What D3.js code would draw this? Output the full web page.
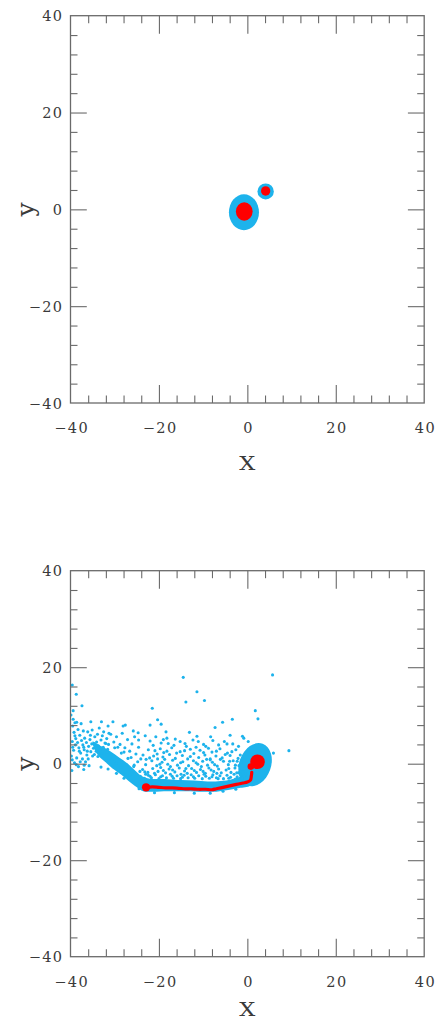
<!DOCTYPE html>
<html>
<head>
<meta charset="utf-8">
<script src="https://cdn.jsdelivr.net/npm/d3@7"></script>
<style>
  html, body { margin: 0; padding: 0; background: #fff; }
  svg { display: block; }
</style>
</head>
<body>
<svg id="chart" width="435" height="1022"></svg>
<script>
// ---- axes ----
const axisDomain = [-40, 40];
const majorTicks = [-40, -20, 0, 20, 40];
const tickLabels = ["\u221240", "\u221220", "0", "20", "40"];
const minorTicks = [-36, -32, -28, -24, -16, -12, -8, -4, 4, 8, 12, 16, 24, 28, 32, 36];

// ---- upper panel: the two discs before the encounter ([x, y, rx, ry]) ----
const topHalos = [[-0.77, -0.6, 3.4, 3.7], [4.14, 3.7, 1.85, 1.65]];
const topCores = [[-0.7, -0.45, 1.9, 1.9], [4.14, 3.8, 1.05, 0.98]];

// ---- lower panel: tidal tail and remnant ----
// dense part of the tail, outline [x, y]
const tailEnvelope = [
  [-35, 4.6], [-33, 3.6], [-31, 2.6], [-29, 1.3], [-27, 0.0], [-25.5, -1.3], [-24, -2.5], [-22, -3.1],
  [-18, -3.2], [-15, -3.4], [-12, -3.5], [-9, -3.7], [-6, -3.6], [-3.5, -3.2], [-1.5, -2.6], [-0.2, -1.6],
  [0.8, -4.4], [-1.5, -5.0], [-4, -5.4], [-7, -5.8], [-10, -5.8], [-14, -5.7], [-18, -5.7],
  [-21.5, -5.8], [-23.6, -5.7], [-25, -4.9], [-27, -3.5], [-28.5, -2.3], [-30.5, -1.0], [-32.2, 0.4], [-34, 2.0]
];
// remnant halo [cx, cy, rx, ry, tilt in degrees]
const remnantHalo = [1.75, -0.2, 3.6, 4.6, 20];
// remnant core blobs [x, y, r]
const remnantCore = [[2.3, 0.4, 1.65], [0.8, -0.6, 0.75]];
// stripped core material trailing behind
const trailHead = [-22.9, -4.9, 0.95];
const redTrail = [
  [-22.9, -4.9], [-21.5, -4.8], [-20, -4.9], [-18.5, -5.0], [-17, -5.0], [-15.5, -5.1], [-14, -5.2],
  [-12.5, -5.2], [-11, -5.3], [-9.5, -5.3], [-8, -5.4], [-7, -5.2], [-6, -5.0], [-5, -4.8], [-4, -4.6],
  [-3, -4.4], [-2, -4.2], [-1, -4.0], [0, -3.8], [0.7, -3.4], [0.9, -2.6], [1.0, -1.8]
];
// loose halo particles [x, y]
const bluePoints = [
  // far outliers
  [-39.6, 16.3], [-38.7, 14.4], [-37.4, 12.0], [-39.4, 11.0], [-39.0, 8.5], [-35.4, 8.7], [-33.0, 8.7],
  [-31.5, 7.8], [-30.4, 8.7], [-28.1, 7.8], [-27.6, 8.0], [-25.8, 6.8], [-24.7, 6.4], [-21.5, 11.5],
  [-20.3, 9.1], [-19.5, 8.2], [-22.0, 8.0], [-18.4, 6.6], [-14.5, 17.9], [-11.4, 14.9], [-13.9, 12.8],
  [-9.7, 13.1], [-13.1, 6.5], [-7.3, 7.5], [-5.6, 8.6], [-3.4, 9.2], [1.8, 11.0], [2.4, 9.3], [5.7, 18.4],
  [9.4, 2.7], [-1.1, 5.7], [-0.8, 5.3],
  // left end of the tail
  [-39.5, 7.8], [-39.2, 6.5], [-38.8, 5.2], [-39.6, 4.6], [-38.3, 7.1], [-37.9, 5.9], [-37.5, 4.8],
  [-38.9, 3.9], [-39.3, 2.8], [-38.1, 3.3], [-37.2, 3.9], [-36.8, 5.3], [-36.4, 4.4], [-36.9, 2.9],
  [-35.9, 3.6], [-35.6, 5.0], [-35.2, 4.1], [-34.8, 3.2], [-34.5, 5.6], [-34.1, 4.5], [-33.7, 3.7],
  [-33.4, 2.9], [-33.1, 4.9], [-32.6, 3.4], [-39.8, 1.6], [-38.6, 1.2], [-37.7, 2.2], [-39.1, 0.2],
  [-38.2, -0.6], [-37.3, 1.0], [-36.3, 1.8], [-35.4, 2.5], [-39.7, -1.4], [-36.6, 0.4], [-34.6, 1.9],
  [-39.4, 9.2], [-38.6, 8.6], [-37.6, 8.3], [-39.9, 10.1], [-36.1, 6.6], [-35.1, 7.0], [-33.9, 6.1],
  [-32.8, 5.8], [-32.2, 4.3], [-31.6, 3.0], [-33.5, 7.4], [-31.3, 6.3], [-38.0, 2.6], [-36.0, 1.0],
  [-34.2, 2.6], [-39.5, 3.4], [-37.1, 6.8], [-39.0, 5.8], [-38.4, 4.4], [-37.0, 3.4], [-36.2, 2.6],
  [-35.0, 1.6], [-39.6, 0.8], [-38.7, -0.2], [-36.9, -0.3], [-37.8, 0.4], [-35.5, 5.9], [-34.3, 3.5],
  [-33.0, 2.1], [-33.8, 1.5],
  // along the bend
  [-31.8, 1.9], [-30.6, 0.9], [-29.7, 0.1], [-28.6, -0.8], [-27.6, -1.7], [-26.6, -2.4], [-27.9, -3.0],
  [-32.0, 4.2], [-30.0, 3.3], [-28.5, 2.2], [-27.0, 1.1], [-25.6, -0.3], [-24.3, -1.6], [-23.0, -2.2],
  // above the bend
  [-32.5, 6.6], [-31.8, 5.2], [-30.9, 6.1], [-30.2, 4.5], [-29.6, 5.6], [-28.8, 4.0], [-28.3, 6.3],
  [-27.7, 3.3], [-27.1, 5.0], [-26.6, 2.6], [-26.1, 4.1], [-25.5, 5.6], [-25.2, 2.0], [-24.6, 3.4],
  [-29.3, 3.4], [-31.4, 4.0], [-27.9, 2.4], [-26.3, 1.3], [-24.1, 1.0], [-25.7, -0.6],
  [-33.1, -0.7], [-35.8, -0.4], [-37.0, -1.2], [-31.5, -1.1], [-29.6, -2.0],
  // sparse upper part of the fan
  [-24.6, 4.9], [-23.1, 5.8], [-22.0, 4.7], [-20.7, 5.6], [-19.5, 4.3], [-18.2, 5.3], [-17.9, 4.2],
  [-16.3, 5.1], [-15.2, 4.6], [-14.1, 4.2], [-11.4, 5.7], [-11.1, 4.6], [-9.9, 4.0], [-8.8, 3.2],
  [-6.5, 3.9], [-5.2, 4.6], [-3.3, 4.1], [-4.6, 4.1], [-7.8, 4.8], [-2.0, 3.6],
  [-16.6, 3.8], [-9.4, 3.6], [-19.0, 5.0], [-12.3, 4.9], [-8.3, 5.6], [-3.9, 5.9],
  // fan, y ~ 3
  [-22.4, 2.9], [-20.9, 2.7], [-19.7, 3.1], [-18.2, 2.6], [-17.1, 3.3], [-15.2, 2.5], [-12.9, 3.0],
  [-10.7, 2.8], [-8.0, 2.4], [-6.2, 3.1], [-4.5, 2.2], [-2.6, 2.9], [-13.8, 3.6], [-21.3, 3.8],
  [-14.2, 2.7], [-11.6, 3.4], [-7.0, 2.6], [-3.5, 2.5],
  // fan, y ~ 1.5
  [-23.6, 1.8], [-22.1, 1.2], [-20.4, 2.0], [-19.1, 1.4], [-17.6, 1.9], [-16.3, 1.1], [-14.7, 1.7],
  [-13.5, 1.0], [-12.1, 2.1], [-11.0, 1.3], [-9.6, 1.8], [-8.4, 1.0], [-7.1, 1.6], [-5.7, 1.2],
  [-3.9, 1.7], [-2.1, 1.1], [-18.7, 0.9], [-9.9, 2.3], [-22.9, 0.9], [-21.2, 1.6], [-18.9, 2.3],
  [-16.0, 2.2], [-12.9, 1.5], [-9.2, 0.9], [-6.1, 0.9], [-5.0, 1.9], [-20.3, 1.0],
  // fan, y ~ 0
  [-24.8, 0.4], [-23.0, -0.2], [-21.6, 0.6], [-20.5, -0.4], [-19.3, 0.3], [-18.0, -0.1], [-16.9, 0.7],
  [-15.8, -0.3], [-14.6, 0.4], [-13.3, -0.4], [-12.2, 0.6], [-11.2, -0.1], [-10.1, 0.5], [-9.0, -0.3],
  [-7.9, 0.3], [-6.8, -0.5], [-5.4, 0.5], [-4.3, -0.2], [-3.2, 0.6], [-1.9, -0.4], [-17.4, -0.6], [-8.4, 0.8],
  [-19.8, -0.1], [-15.1, 0.2], [-11.6, 0.2], [-7.4, -0.2], [-4.0, 0.5], [-2.7, -0.3], [-1.3, 0.4],
  // fan, y ~ -1.3
  [-23.7, -1.2], [-22.5, -1.8], [-21.4, -1.0], [-20.2, -1.6], [-19.6, -0.8], [-18.5, -1.9], [-17.7, -1.1],
  [-16.4, -1.7], [-15.4, -0.9], [-14.2, -1.5], [-13.6, -2.0], [-12.6, -1.0], [-11.5, -1.8], [-10.6, -1.2],
  [-9.5, -2.0], [-8.7, -0.9], [-7.6, -1.6], [-6.5, -1.1], [-5.9, -1.9], [-4.8, -1.3], [-3.7, -1.8],
  [-2.8, -0.9], [-1.6, -1.6], [-0.8, -1.1], [-21.0, -2.0], [-15.0, -2.2],
  [-13.9, -1.0], [-10.4, -0.6], [-23.2, -1.7], [-19.0, -1.4], [-16.9, -1.3], [-12.0, -1.4], [-10.0, -1.6],
  [-8.2, -1.3], [-6.9, -2.0], [-4.2, -1.0], [-2.0, -1.9], [-0.4, -2.1],
  // fan, just above the dense band
  [-24.2, -2.6], [-23.3, -3.0], [-22.4, -2.4], [-21.7, -2.9], [-20.8, -2.3], [-20.0, -3.1], [-19.2, -2.5],
  [-18.3, -2.9], [-17.4, -2.2], [-16.7, -3.0], [-15.9, -2.5], [-15.1, -3.1], [-14.3, -2.4], [-13.4, -2.9],
  [-12.7, -2.3], [-11.9, -3.0], [-11.0, -2.5], [-10.2, -3.1], [-9.4, -2.6], [-8.6, -3.0], [-7.8, -2.3],
  [-7.0, -2.9], [-6.2, -2.5], [-5.4, -3.1], [-4.6, -2.4], [-3.8, -2.8], [-3.0, -2.2], [-2.3, -2.7],
  [-1.5, -2.3], [-0.7, -2.6], [-22.0, -2.6], [-19.6, -2.7], [-17.0, -2.6], [-14.7, -2.8], [-12.2, -2.7],
  [-9.8, -2.2], [-8.0, -2.7], [-6.6, -3.1], [-4.2, -3.0], [-2.7, -3.2], [-1.1, -3.3],
  // lower edge of the band and around the remnant
  [-24.5, -5.2], [-21.0, -6.0], [-16.5, -6.0], [-12.0, -6.1], [-8.4, -6.1], [-5.5, -5.7], [-2.6, -5.3],
  [-2.3, 0.5], [-1.6, 1.8], [-2.4, -1.9], [-1.2, -3.0], [5.9, 2.2], [0.2, 4.6]
];

// ---- drawing ----
const blue = "#1db3ec";
const red = "#ff0000";
const frameColor = "#6a6a6a";
const svg = d3.select("#chart");

function makePanel(top, bottom) {
  const x = d3.scaleLinear().domain(axisDomain).range([70.5, 424.2]);
  const y = d3.scaleLinear().domain(axisDomain).range([bottom, top]);
  const g = svg.append("g");
  const id = "clip" + Math.round(top);
  g.append("clipPath").attr("id", id)
    .append("rect").attr("x", 70.5).attr("y", top).attr("width", 424.2 - 70.5).attr("height", bottom - top);
  const plot = g.append("g").attr("clip-path", `url(#${id})`);
  return { g, plot, x, y, top, bottom };
}

function drawAxes(p, xLabelY) {
  const { g, x, y, top, bottom } = p;
  const styleAxis = sel => {
    sel.select(".domain").remove();
    sel.selectAll(".tick line").attr("stroke", frameColor).attr("stroke-width", 1.1);
  };
  const addX = (axisFn, pos, size, values, labels) => {
    const a = axisFn(x).tickValues(values).tickSize(-size).tickSizeOuter(0)
      .tickFormat(labels ? (d, i) => labels[i] : "");
    const s = g.append("g").attr("transform", `translate(0,${pos})`).call(a).call(styleAxis);
    s.selectAll(".tick").filter(d => Math.abs(d) === 40).select("line").remove();
    return s;
  };
  const addY = (axisFn, pos, size, values, labels) => {
    const a = axisFn(y).tickValues(values).tickSize(-size).tickSizeOuter(0)
      .tickFormat(labels ? (d, i) => labels[i] : "");
    const s = g.append("g").attr("transform", `translate(${pos},0)`).call(a).call(styleAxis);
    s.selectAll(".tick").filter(d => Math.abs(d) === 40).select("line").remove();
    return s;
  };
  // bottom, top
  const xb = addX(d3.axisBottom, bottom, 18, majorTicks, tickLabels);
  addX(d3.axisBottom, bottom, 7.5, minorTicks, null);
  addX(d3.axisTop, top, 18, majorTicks, null);
  addX(d3.axisTop, top, 7.5, minorTicks, null);
  // left, right
  const yl = addY(d3.axisLeft, 70.5, 16.3, majorTicks, tickLabels);
  addY(d3.axisLeft, 70.5, 7, minorTicks, null);
  addY(d3.axisRight, 424.2, 16.3, majorTicks, null);
  addY(d3.axisRight, 424.2, 7, minorTicks, null);

  const textStyle = sel => sel
    .attr("font-family", "'DejaVu Serif', serif").attr("font-size", 14.5)
    .attr("letter-spacing", 1.4).attr("fill", "#3a3a3a");
  xb.selectAll(".tick text").call(textStyle).attr("y", 30).attr("dy", 0).attr("dx", 0.7);
  yl.selectAll(".tick text").call(textStyle).attr("x", -7).attr("dy", "0.36em");

  g.append("rect")
    .attr("x", 70.5).attr("y", top).attr("width", 424.2 - 70.5).attr("height", bottom - top)
    .attr("fill", "none").attr("stroke", frameColor).attr("stroke-width", 1.3);

  g.append("text")
    .attr("x", x(0)).attr("y", xLabelY)
    .attr("text-anchor", "middle")
    .attr("font-family", "'DejaVu Serif', serif").attr("font-size", 18)
    .attr("fill", "#3a3a3a")
    .attr("transform", `translate(${x(0)},0) scale(1.25,1) translate(${-x(0)},0)`)
    .text("X");
  g.append("text")
    .attr("transform", `translate(33.5,${y(0)}) rotate(-90)`)
    .attr("text-anchor", "middle")
    .attr("font-family", "'DejaVu Serif', serif").attr("font-size", 25)
    .attr("fill", "#3a3a3a")
    .text("y");
}

// upper panel
const pTop = makePanel(15.7, 403);
const sx = p => v => p.x(v) - p.x(0);
const sy = p => v => p.y(0) - p.y(v);
pTop.plot.selectAll("ellipse.halo").data(topHalos).join("ellipse")
  .attr("cx", d => pTop.x(d[0])).attr("cy", d => pTop.y(d[1]))
  .attr("rx", d => sx(pTop)(d[2])).attr("ry", d => sy(pTop)(d[3]))
  .attr("fill", blue);
pTop.plot.selectAll("ellipse.core").data(topCores).join("ellipse")
  .attr("cx", d => pTop.x(d[0])).attr("cy", d => pTop.y(d[1]))
  .attr("rx", d => sx(pTop)(d[2])).attr("ry", d => sy(pTop)(d[3]))
  .attr("fill", red);
drawAxes(pTop, 470);

// lower panel
const pBot = makePanel(570.7, 956.7);
pBot.plot.append("path")
  .datum(tailEnvelope)
  .attr("d", d3.line().x(d => pBot.x(d[0])).y(d => pBot.y(d[1])).curve(d3.curveCatmullRomClosed.alpha(0.5)))
  .attr("fill", blue);
pBot.plot.append("ellipse")
  .attr("cx", pBot.x(remnantHalo[0])).attr("cy", pBot.y(remnantHalo[1]))
  .attr("rx", sx(pBot)(remnantHalo[2])).attr("ry", sy(pBot)(remnantHalo[3]))
  .attr("transform", `rotate(${remnantHalo[4]},${pBot.x(remnantHalo[0])},${pBot.y(remnantHalo[1])})`)
  .attr("fill", blue);
pBot.plot.selectAll("circle.pt").data(bluePoints).join("circle")
  .attr("cx", d => pBot.x(d[0])).attr("cy", d => pBot.y(d[1]))
  .attr("r", 1.55).attr("fill", blue);
pBot.plot.append("path")
  .datum(redTrail)
  .attr("d", d3.line().x(d => pBot.x(d[0])).y(d => pBot.y(d[1])).curve(d3.curveCatmullRom))
  .attr("fill", "none").attr("stroke", red).attr("stroke-width", 3.2).attr("stroke-linecap", "round");
pBot.plot.append("circle")
  .attr("cx", pBot.x(trailHead[0])).attr("cy", pBot.y(trailHead[1]))
  .attr("r", sx(pBot)(trailHead[2])).attr("fill", red);
pBot.plot.selectAll("circle.core").data(remnantCore).join("circle")
  .attr("cx", d => pBot.x(d[0])).attr("cy", d => pBot.y(d[1]))
  .attr("r", d => sx(pBot)(d[2])).attr("fill", red);
drawAxes(pBot, 1016);
</script>
</body>
</html>
